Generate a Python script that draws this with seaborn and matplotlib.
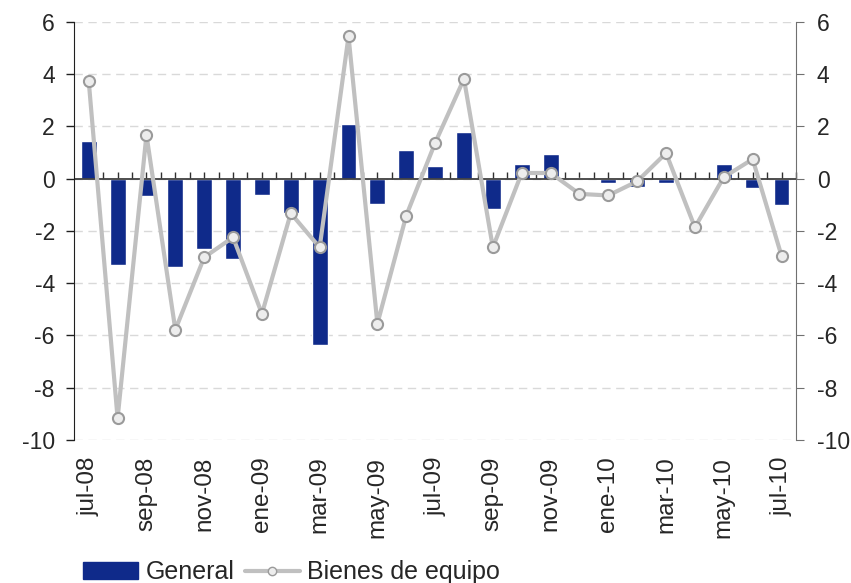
# Bar + line chart: General vs Bienes de equipo (monthly, jul-08 .. jul-10)
import numpy as np
import pandas as pd
import matplotlib
matplotlib.use('Agg')
import matplotlib.pyplot as plt
import seaborn as sns
from matplotlib.patches import Patch
from matplotlib.lines import Line2D

# -------------------- data --------------------
months = ['jul-08', 'ago-08', 'sep-08', 'oct-08', 'nov-08', 'dic-08',
          'ene-09', 'feb-09', 'mar-09', 'abr-09', 'may-09', 'jun-09',
          'jul-09', 'ago-09', 'sep-09', 'oct-09', 'nov-09', 'dic-09',
          'ene-10', 'feb-10', 'mar-10', 'abr-10', 'may-10', 'jun-10', 'jul-10']
general = [1.45, -3.3, -0.68, -3.37, -2.68, -3.06,
           -0.64, -1.3, -6.37, 2.09, -0.95, 1.09,
           0.47, 1.79, -1.14, 0.55, 0.93, 0.02,
           -0.17, -0.32, -0.17, -0.06, 0.55, -0.37, -0.99]
bienes_equipo = [3.74, -9.17, 1.68, -5.78, -3.01, -2.24,
                 -5.17, -1.32, -2.63, 5.45, -5.55, -1.41,
                 1.37, 3.82, -2.63, 0.22, 0.22, -0.58,
                 -0.64, -0.1, 0.98, -1.86, 0.06, 0.75, -2.95]
shown_labels = months[::2]

df = pd.DataFrame({'mes': months, 'General': general, 'Bienes de equipo': bienes_equipo})

navy = '#0F2A8A'
gris = '#C0C0C0'

sns.set_style('white')
plt.rcParams['font.family'] = ['Liberation Sans', 'DejaVu Sans']
plt.rcParams['axes.unicode_minus'] = False

fig = plt.figure(figsize=(8.51, 5.83), dpi=100)
ax = fig.add_axes([0.0873, 0.2453, 0.848, 0.717])

# -------------------- bars + line --------------------
sns.barplot(data=df, x='mes', y='General', color=navy, width=0.55,
            saturation=1, ax=ax, zorder=2)
ax.axhline(0, color='#404040', linewidth=1.3, zorder=2.5)
sns.lineplot(x=df.index, y=df['Bienes de equipo'], ax=ax, color=gris,
             linewidth=3, marker='o', markersize=8, markerfacecolor='#EDEDED',
             markeredgecolor='#9A9A9A', markeredgewidth=1.5, zorder=3)

ax.set_xlim(-0.5, len(months) - 0.5)
ax.set_ylim(-10, 6)
ax.set_yticks(np.arange(-10, 7, 2))
ax.yaxis.grid(True, linestyle=(0, (6, 4)), color='#D9D9D9', linewidth=1)
ax.set_axisbelow(True)
ax.set_xlabel('')
ax.set_ylabel('')

ax.set_xticks(range(0, len(months), 2))
ax.set_xticklabels(shown_labels, rotation=90, fontsize=17.5)
ax.tick_params(axis='x', length=0, pad=12)
ax.tick_params(axis='y', labelsize=16.5, length=6, width=1, color='#202020',
               direction='out', left=True, pad=8)

for s in ['top', 'right', 'bottom']:
    ax.spines[s].set_visible(False)
ax.spines['left'].set_color('#202020')

# small month ticks sitting on the zero line
zero_ax = ax.secondary_xaxis(10 / 16)
zero_ax.set_xticks(np.arange(0, len(months), 0.5))
zero_ax.set_xticklabels([])
zero_ax.tick_params(direction='out', length=5, color='#303030', width=1)
zero_ax.spines['top'].set_visible(False)
zero_ax.spines['bottom'].set_visible(False)

# right axis mirrors the left one
ax2 = ax.twinx()
ax2.set_ylim(-10, 6)
ax2.set_yticks(np.arange(-10, 7, 2))
ax2.tick_params(axis='y', labelsize=16.5, length=6, color='#707070', direction='out', pad=9)
for s in ['top', 'left', 'bottom']:
    ax2.spines[s].set_visible(False)
ax2.spines['right'].set_color('#707070')

# -------------------- legend --------------------
handles = [Patch(facecolor=navy, edgecolor=navy),
           Line2D([], [], color=gris, linewidth=3, marker='o', markersize=6,
                  markerfacecolor='#EDEDED', markeredgecolor='#9A9A9A')]
fig.legend(handles, ['General', 'Bienes de equipo'], loc='lower left',
           bbox_to_anchor=(0.083, -0.024), ncol=2, frameon=False, fontsize=18,
           borderpad=0, handlelength=2.2, handleheight=0.7, handletextpad=0.3,
           columnspacing=0.4)

fig.savefig('out.png', dpi=100)
